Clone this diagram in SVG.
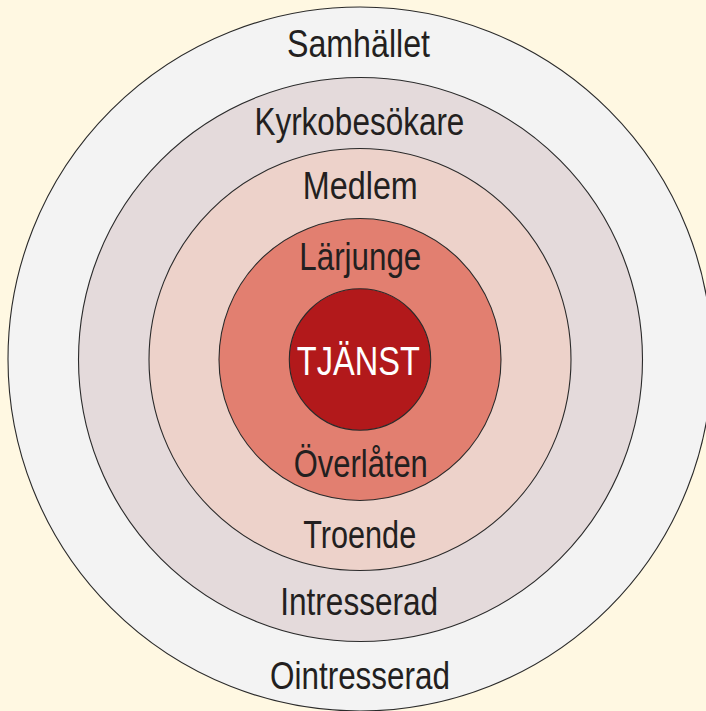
<svg xmlns="http://www.w3.org/2000/svg" width="706" height="711" viewBox="0 0 706 711">
<style>
.ring{stroke:#2a2a2a;stroke-width:1.1}
.lbl{font-family:"Liberation Sans Narrow","Liberation Sans",Arial,sans-serif;font-size:38px;fill:#231f20;text-anchor:middle}
.core{fill:#ffffff;font-size:40px}
</style>
<rect width="706" height="711" fill="#fff8e2"/>
<g id="samhallet">
<circle class="ring" cx="360" cy="359" r="352" fill="#f3f3f3"/>
<text class="lbl" x="358.5" y="57" textLength="143" lengthAdjust="spacingAndGlyphs">Samhället</text>
<text class="lbl" x="360" y="688.5" textLength="180" lengthAdjust="spacingAndGlyphs">Ointresserad</text>
</g>
<g id="kyrkobesokare">
<circle class="ring" cx="360.5" cy="359.5" r="282" fill="#e4dadb"/>
<text class="lbl" x="359.4" y="135" textLength="210" lengthAdjust="spacingAndGlyphs">Kyrkobesökare</text>
<text class="lbl" x="359.2" y="615" textLength="158" lengthAdjust="spacingAndGlyphs">Intresserad</text>
</g>
<g id="medlem">
<circle class="ring" cx="360" cy="359.5" r="211" fill="#edd2ca"/>
<text class="lbl" x="360.3" y="199.3" textLength="115" lengthAdjust="spacingAndGlyphs">Medlem</text>
<text class="lbl" x="359.7" y="548.3" textLength="113" lengthAdjust="spacingAndGlyphs">Troende</text>
</g>
<g id="larjunge">
<circle class="ring" cx="360" cy="359.5" r="141" fill="#e27f70"/>
<text class="lbl" x="360.3" y="270" textLength="122" lengthAdjust="spacingAndGlyphs">Lärjunge</text>
<text class="lbl" x="360.8" y="476.7" textLength="134" lengthAdjust="spacingAndGlyphs">Överlåten</text>
</g>
<g id="tjanst">
<circle class="ring" cx="360" cy="359.5" r="70.7" fill="#b2191b"/>
<text class="lbl core" x="358.3" y="375" textLength="123" lengthAdjust="spacingAndGlyphs">TJÄNST</text>
</g>
<g id="connectors"/>
</svg>
